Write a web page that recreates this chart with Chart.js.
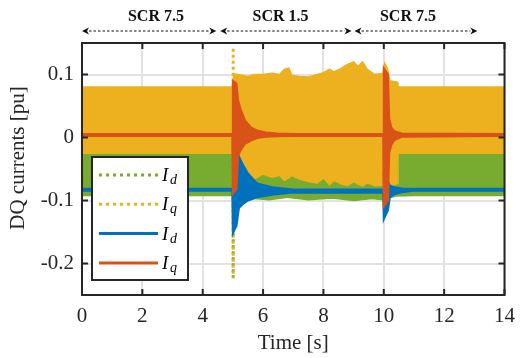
<!DOCTYPE html>
<html>
<head>
<meta charset="utf-8">
<script src="https://cdn.jsdelivr.net/npm/chart.js@4.4.0/dist/chart.umd.min.js"></script>
<style>
  html, body { margin: 0; padding: 0; background: #fff; }
</style>
</head>
<body>
<canvas id="dqChart" width="524" height="358"></canvas>
<script>
// raw Id (green dotted) - envelope of the noisy band
const idRawT  = [0, 4.98, 5.03, 5.5, 6.2, 6.8, 7.5, 8.3, 9.0, 9.6, 9.98, 10.02, 10.08, 10.4, 11, 12, 13, 14];
const idRawHi = [-0.02, -0.02, -0.02, -0.02, -0.02, -0.02, -0.02, -0.02, -0.02, -0.02, -0.02, 0.1, -0.02, -0.02, -0.02, -0.02, -0.02, -0.02];
const idRawLo = [-0.092, -0.092, -0.1, -0.096, -0.099, -0.095, -0.099, -0.096, -0.1, -0.097, -0.099, -0.12, -0.097, -0.093, -0.092, -0.092, -0.092, -0.092];

// raw Iq (yellow dotted)
const iqRawT  = [0, 4.98, 5.03, 5.3, 5.5, 5.7, 6.0, 6.3, 6.55, 6.7, 6.85, 6.95, 7.2, 7.5, 7.8, 8.0, 8.2, 8.35, 8.6, 8.8, 9.0, 9.15, 9.3, 9.45, 9.7, 9.98, 10.03, 10.12, 10.2, 10.44, 10.47, 11, 12, 13, 14];
const iqRawHi = [0.08, 0.08, 0.101, 0.099, 0.097, 0.1, 0.1, 0.102, 0.1, 0.108, 0.11, 0.099, 0.097, 0.096, 0.1, 0.103, 0.108, 0.104, 0.11, 0.116, 0.12, 0.113, 0.12, 0.108, 0.1, 0.102, 0.118, 0.11, 0.09, 0.088, 0.08, 0.08, 0.08, 0.08, 0.08];
const iqRawLo = [-0.025, -0.025, -0.06, -0.062, -0.055, -0.066, -0.058, -0.063, -0.06, -0.068, -0.064, -0.06, -0.066, -0.07, -0.072, -0.064, -0.075, -0.068, -0.074, -0.076, -0.07, -0.074, -0.077, -0.072, -0.076, -0.076, -0.1, -0.08, -0.078, -0.073, -0.025, -0.025, -0.025, -0.025, -0.025];

// dotted transient at the SCR step (t = 5 s)
const iqSpikeT = [5.01, 5.01];
const iqSpikeY = [0.141, -0.224];
const idSpikeT = [5.01, 5.01];
const idSpikeY = [-0.09, -0.222];

// filtered Id (blue)
const idFiltT  = [0, 4.98, 5.0, 5.12, 5.2, 5.35, 5.5, 5.8, 6.3, 7.0, 9.98, 10.0, 10.14, 10.2, 10.35, 10.6, 11, 14];
const idFiltHi = [-0.0815, -0.0815, -0.01, -0.02, -0.03, -0.045, -0.057, -0.073, -0.079, -0.0825, -0.0825, -0.06, -0.07, -0.076, -0.079, -0.081, -0.0815, -0.0815];
const idFiltLo = [-0.0845, -0.0845, -0.152, -0.14, -0.112, -0.105, -0.1, -0.095, -0.091, -0.0875, -0.0875, -0.13, -0.115, -0.095, -0.09, -0.087, -0.0845, -0.0845];

// filtered Iq (red)
const iqFiltT  = [0, 4.98, 5.0, 5.12, 5.17, 5.25, 5.4, 5.6, 5.8, 6.1, 6.5, 7.0, 9.98, 10.0, 10.14, 10.18, 10.25, 10.35, 10.6, 14];
const iqFiltHi = [0.0055, 0.0055, 0.09, 0.086, 0.06, 0.046, 0.027, 0.016, 0.011, 0.008, 0.0065, 0.0055, 0.0055, 0.11, 0.1, 0.03, 0.016, 0.01, 0.0065, 0.0055];
const iqFiltLo = [0.0025, 0.0025, -0.089, -0.082, -0.03, -0.021, -0.01, -0.005, -0.001, 0.001, 0.002, 0.0025, 0.0025, -0.11, -0.1, -0.025, -0.012, -0.004, 0.001, 0.0025];

const xTicksStep = 2;
const yTicks = [-0.2, -0.1, 0, 0.1];

// SCR annotation above the plot
const scrLabels = ['SCR 7.5', 'SCR 1.5', 'SCR 7.5'];
const scrLabelT = [2.45, 6.58, 10.8];
const scrStart  = [0, 4.58, 9.03];
const scrEnd    = [4.45, 8.93, 13.1];

const legendSubs = ['d', 'q', 'd', 'q'];

const GREEN = '#77AC30', YELLOW = '#EDB120', BLUE = '#0072BD', RED = '#D95319';
const SERIF = '"Liberation Serif", "Times New Roman", serif';
const AXIS = '#262626';

function pts(t, v) {
    return t.map((x, i) => ({ x: x, y: v[i] }));
}

function band(t, hi, lo, color, w) {
    return [
        { data: pts(t, hi), borderColor: color, backgroundColor: color, borderWidth: w, fill: '+1' },
        { data: pts(t, lo), borderColor: color, backgroundColor: color, borderWidth: w, fill: false }
    ];
}

function spike(t, v, color, offset) {
    return { data: pts(t, v), borderColor: color, borderWidth: 3, borderDash: [3, 3], borderDashOffset: offset, borderCapStyle: 'butt', fill: false };
}

// first dataset is drawn on top
const datasets = [].concat(
    band(iqFiltT, iqFiltHi, iqFiltLo, RED, 2),
    band(idFiltT, idFiltHi, idFiltLo, BLUE, 2),
    [spike(iqSpikeT, iqSpikeY, YELLOW, 0), spike(idSpikeT, idSpikeY, GREEN, 3)],
    band(iqRawT, iqRawHi, iqRawLo, YELLOW, 1.5),
    band(idRawT, idRawHi, idRawLo, GREEN, 1.5)
);

const legendStyles = [
    { color: GREEN, dash: [3, 4] },
    { color: YELLOW, dash: [3, 4] },
    { color: BLUE, dash: [] },
    { color: RED, dash: [] }
];

const framePlugin = {
    id: 'frame',
    afterDatasetsDraw(chart) {
        const { ctx, chartArea: a, scales } = chart;
        ctx.save();
        ctx.strokeStyle = AXIS;
        ctx.lineWidth = 2;
        ctx.strokeRect(a.left, a.top, a.right - a.left, a.bottom - a.top);
        ctx.beginPath();
        scales.x.ticks.forEach(tk => {
            const px = scales.x.getPixelForValue(tk.value);
            ctx.moveTo(px, a.bottom); ctx.lineTo(px, a.bottom - 6);
            ctx.moveTo(px, a.top); ctx.lineTo(px, a.top + 6);
        });
        scales.y.ticks.forEach(tk => {
            const py = scales.y.getPixelForValue(tk.value);
            ctx.moveTo(a.left, py); ctx.lineTo(a.left + 6, py);
            ctx.moveTo(a.right, py); ctx.lineTo(a.right - 6, py);
        });
        ctx.stroke();
        ctx.restore();
    }
};

const scrPlugin = {
    id: 'scr',
    afterDraw(chart) {
        const { ctx, scales } = chart;
        const y = 31, head = 7;
        ctx.save();
        ctx.fillStyle = '#111';
        ctx.strokeStyle = '#111';
        ctx.font = 'bold 16px ' + SERIF;
        ctx.textAlign = 'center';
        ctx.textBaseline = 'middle';
        scrLabels.forEach((lab, i) => {
            ctx.fillText(lab, scales.x.getPixelForValue(scrLabelT[i]), 17);
            const x1 = scales.x.getPixelForValue(scrStart[i]);
            const x2 = scales.x.getPixelForValue(scrEnd[i]);
            ctx.lineWidth = 1;
            ctx.setLineDash([2.5, 2]);
            ctx.beginPath();
            ctx.moveTo(x1 + head, y); ctx.lineTo(x2 - head, y);
            ctx.stroke();
            ctx.setLineDash([]);
            ctx.beginPath();
            ctx.moveTo(x1, y); ctx.lineTo(x1 + head, y - 3.5); ctx.lineTo(x1 + head - 2, y); ctx.lineTo(x1 + head, y + 3.5); ctx.closePath();
            ctx.moveTo(x2, y); ctx.lineTo(x2 - head, y - 3.5); ctx.lineTo(x2 - head + 2, y); ctx.lineTo(x2 - head, y + 3.5); ctx.closePath();
            ctx.fill();
        });
        ctx.restore();
    }
};

const legendPlugin = {
    id: 'boxLegend',
    afterDraw(chart) {
        const { ctx } = chart;
        const bx = 92, by = 157, bw = 96, bh = 123;
        ctx.save();
        ctx.fillStyle = '#fff';
        ctx.fillRect(bx, by, bw, bh);
        ctx.strokeStyle = AXIS;
        ctx.lineWidth = 2;
        ctx.strokeRect(bx, by, bw, bh);
        legendSubs.forEach((sub, i) => {
            const y = by + 18 + i * 29.3;
            const st = legendStyles[i];
            ctx.strokeStyle = st.color;
            ctx.lineWidth = 3;
            ctx.setLineDash(st.dash);
            ctx.beginPath();
            ctx.moveTo(99, y); ctx.lineTo(158, y);
            ctx.stroke();
            ctx.setLineDash([]);
            ctx.fillStyle = '#000';
            ctx.textBaseline = 'alphabetic';
            ctx.textAlign = 'left';
            ctx.font = 'italic 19px ' + SERIF;
            ctx.fillText('I', 162, y + 6);
            ctx.font = 'italic 14px ' + SERIF;
            ctx.fillText(sub, 170, y + 9);
        });
        ctx.restore();
    }
};

const yTitlePlugin = {
    id: 'yTitle',
    afterDraw(chart) {
        const { ctx } = chart;
        ctx.save();
        ctx.translate(18, 158);
        ctx.rotate(-Math.PI / 2);
        ctx.fillStyle = AXIS;
        ctx.font = '21px ' + SERIF;
        ctx.textAlign = 'center';
        ctx.textBaseline = 'middle';
        ctx.fillText('DQ currents [pu]', 0, 0);
        ctx.restore();
    }
};

const tickFont = { family: SERIF, size: 21 };

const chart = new Chart(document.getElementById('dqChart').getContext('2d'), {
    type: 'line',
    data: { datasets: datasets },
    options: {
        responsive: false,
        animation: false,
        layout: { padding: { top: 43, right: 14, left: 0, bottom: 0 } },
        elements: { point: { radius: 0 }, line: { tension: 0 } },
        plugins: { legend: { display: false }, tooltip: { enabled: false } },
        scales: {
            x: {
                type: 'linear', min: 0, max: 14,
                ticks: { stepSize: xTicksStep, font: tickFont, color: AXIS, padding: 9, maxRotation: 0 },
                grid: { color: '#e2e2e2', lineWidth: 2, drawTicks: false },
                border: { display: false },
                title: { display: true, text: 'Time [s]', font: tickFont, color: AXIS, padding: { top: 0, bottom: 2 } },
                afterFit: s => { s.height = 63; }
            },
            y: {
                type: 'linear', min: -0.25, max: 0.15,
                afterBuildTicks: s => { s.ticks = yTicks.map(v => ({ value: v })); },
                ticks: { font: tickFont, color: AXIS, padding: 8, callback: v => String(+v.toFixed(1)) },
                grid: { color: '#e2e2e2', lineWidth: 2, drawTicks: false },
                border: { display: false },
                afterFit: s => { s.width = 82; }
            }
        }
    },
    plugins: [framePlugin, scrPlugin, legendPlugin, yTitlePlugin]
});
</script>
</body>
</html>
